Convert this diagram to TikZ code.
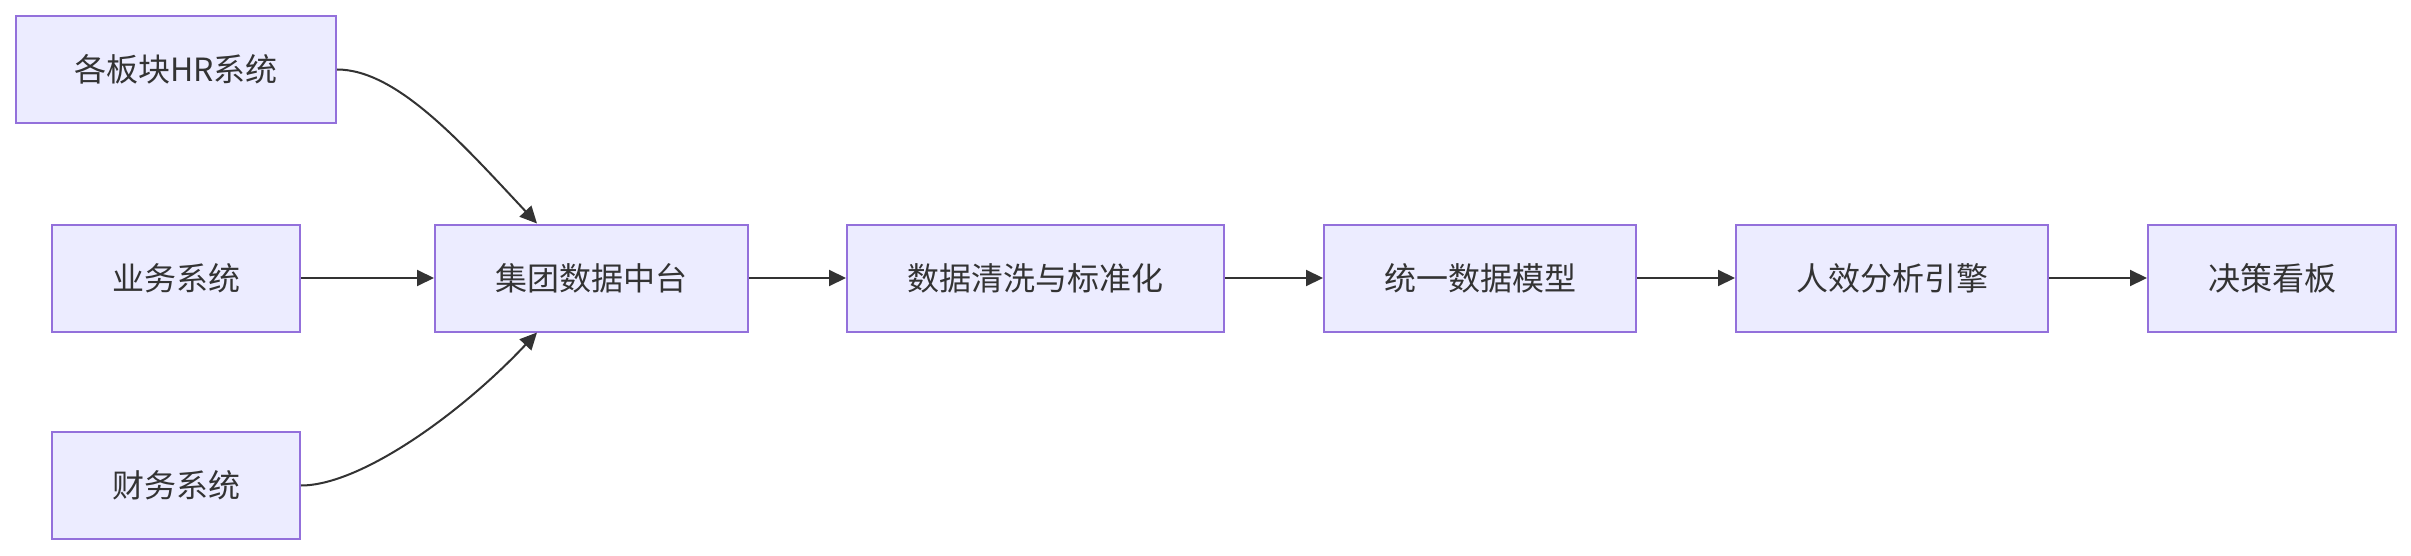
\documentclass[tikz,border=0pt]{standalone}
\usepackage{fontspec}
\setmainfont{Noto Sans CJK SC}
\usetikzlibrary{arrows.meta}
\definecolor{nodefill}{HTML}{ECECFF}
\definecolor{nodeline}{HTML}{9370DB}
\definecolor{txt}{HTML}{333333}
\tikzset{
  box/.style={draw=nodeline, fill=nodefill, line width=2pt, inner sep=0pt,
    minimum height=107pt, text=txt, font=\fontsize{32}{38}\selectfont},
  arr/.style={draw=txt, line width=2pt, -{Triangle[length=17pt,width=16pt]}},
}
\begin{document}
\begin{tikzpicture}[x=1pt,y=-1pt]
\useasboundingbox (0,0) rectangle (2411,556);
\node[box, minimum width=320pt] (hr) at (176,69.5) {各板块HR系统};
\node[box, minimum width=248pt] (yw) at (176,278) {业务系统};
\node[box, minimum width=248pt] (cw) at (176,485.5) {财务系统};
\node[box, minimum width=313pt] (jt) at (591.5,278) {集团数据中台};
\node[box, minimum width=377pt] (qx) at (1035.5,278) {数据清洗与标准化};
\node[box, minimum width=312pt] (ty) at (1480,278) {统一数据模型};
\node[box, minimum width=312pt] (rx) at (1892,278) {人效分析引擎};
\node[box, minimum width=248pt] (jc) at (2272,278) {决策看板};
\coordinate (jtin1) at ([xshift=-54.5pt]jt.north);
\coordinate (jtin2) at ([xshift=-54.5pt]jt.south);
\draw[arr] (hr.east) .. controls +(60,0) and +(-75,-80) .. (jtin1);
\draw[arr] (cw.east) .. controls +(60,0) and +(-75,80) .. (jtin2);
\draw[arr] (yw) -- (jt);
\draw[arr] (jt) -- (qx);
\draw[arr] (qx) -- (ty);
\draw[arr] (ty) -- (rx);
\draw[arr] (rx) -- (jc);
\end{tikzpicture}
\end{document}
